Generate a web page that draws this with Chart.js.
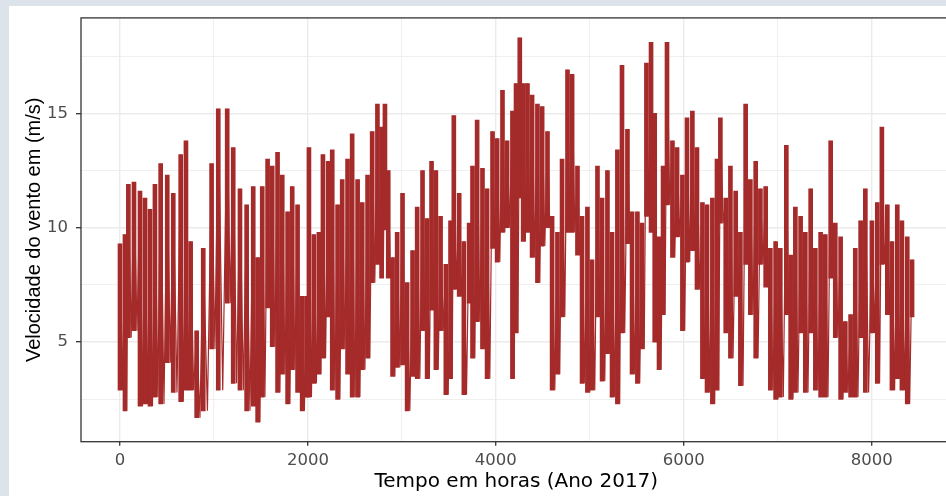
<!DOCTYPE html>
<html><head><meta charset="utf-8">
<script src="https://cdn.jsdelivr.net/npm/chart.js@4.4.1/dist/chart.umd.min.js"></script>
<style>html,body{margin:0;padding:0;overflow:hidden;background:#dce3ea;width:946px;height:496px}
canvas{position:absolute;left:0;top:0}</style></head>
<body><canvas id="c" width="960" height="496"></canvas>
<script>
const hours = [0,53,89,149,213,266,319,372,433,503,567,646,702,752,816,886,975,1046,1141,1205,1277,1348,
1418,1465,1514,1571,1620,1677,1727,1784,1833,1890,1939,1986,2011,2064,2117,2160,2216,2259,2316,2365,2422,2471,2529,2578,2635,2684,2740,
2784,2820,2855,2901,2950,3007,3056,3114,3163,3220,3269,3316,3362,3412,3468,3518,3553,3610,3660,3716,3752,3801,3858,3907,3965,4014,4071,4120,4177,4215,
4255,4291,4337,4386,4443,4493,4550,4599,4656,4705,4763,4812,4869,4918,4975,5024,5082,5131,5188,5237,5294,5343,5401,5450,5507,5556,5603,
5652,5691,5737,5780,5822,5880,5929,5986,6035,6092,6141,6199,6248,6305,6354,6390,6447,6497,6553,6603,6659,6709,6766,6816,6872,6922,6978,7028,7092,
7138,7188,7244,7294,7351,7401,7457,7507,7564,7613,7670,7720,7776,7826,7883,7933,8003,8060,8109,8167,8216,8273,8322,8379,8430];
const speedMax = [9.3,9.7,11.9,12.0,11.6,11.3,10.8,11.9,12.8,12.3,11.5,13.2,13.8,9.4,5.5,9.1,12.8,15.2,15.2,13.5,11.7,11.0,
11.8,8.7,11.8,13.0,12.7,13.3,12.3,10.7,11.8,11.0,7.0,7.0,13.5,9.7,9.8,13.2,12.9,13.4,11.0,12.1,13.0,14.1,12.1,11.1,12.3,14.2,15.4,
14.4,15.4,12.5,8.7,9.8,11.5,7.6,9.0,10.9,12.5,10.4,12.9,12.5,10.5,8.4,10.3,14.9,11.5,9.4,10.2,12.7,14.7,12.6,11.7,14.2,13.9,16.0,13.8,15.1,16.3,
18.3,16.3,16.3,15.8,15.4,15.3,14.2,10.5,9.8,13.0,16.9,16.7,12.7,10.5,10.9,8.6,12.7,11.3,12.5,9.8,13.4,17.1,14.3,10.7,10.7,10.2,17.2,
18.1,15.0,9.6,12.7,18.1,13.8,13.5,12.3,14.8,15.1,13.5,11.1,11.0,11.3,13.0,14.8,11.3,12.7,11.6,9.8,15.4,12.1,12.9,11.7,11.8,9.1,9.4,9.1,13.6,
8.8,10.9,10.5,9.8,11.7,9.1,9.8,9.7,13.8,10.2,9.6,5.9,6.2,9.1,10.3,11.7,10.3,11.1,14.4,11.0,9.4,11.0,10.3,9.6,8.6];
const speedMin = [2.9,2.0,5.2,5.5,2.2,2.3,2.2,2.6,2.3,4.1,2.8,2.4,2.9,2.9,1.7,2.0,4.7,2.9,6.7,3.2,2.9,2.0,
2.2,1.5,2.6,6.5,4.8,2.8,3.6,2.3,3.8,2.8,2.0,2.6,2.6,3.2,3.6,4.3,6.1,2.9,2.5,4.7,3.6,2.6,2.6,3.8,4.3,7.6,8.4,
7.8,9.9,7.8,3.5,3.9,4.0,2.0,3.5,3.4,5.5,3.4,6.4,3.8,5.5,2.7,3.4,7.3,7.0,2.7,6.7,4.3,5.9,4.7,3.4,9.1,8.5,9.8,10.0,3.4,5.4,
11.3,9.4,9.8,8.7,7.6,9.2,10.0,2.9,3.6,6.1,9.8,9.8,8.8,3.2,2.8,2.9,6.1,3.3,4.5,2.6,2.3,5.4,9.3,3.6,3.2,4.7,10.5,
9.8,5.0,3.8,6.2,11.0,8.7,9.6,5.5,8.5,9.0,7.3,3.4,2.8,2.3,2.9,10.2,5.4,4.3,7.0,3.1,8.4,6.2,4.3,8.4,7.4,2.9,2.5,2.6,6.2,
2.5,2.8,5.4,2.8,5.4,2.9,2.6,2.6,7.8,5.2,2.5,2.8,2.6,2.6,5.2,2.8,5.4,3.2,8.4,6.2,2.9,3.4,2.9,2.3,6.1];

const xMajorTicks = [0, 2000, 4000, 6000, 8000];
const xMinorTicks = [1000, 3000, 5000, 7000];
const yMajorTicks = [5, 10, 15];
const yMinorTicks = [2.5, 7.5, 12.5, 17.5];
const xTitle = 'Tempo em horas (Ano 2017)';
const yTitle = 'Velocidade do vento em (m/s)';

// each window's range as a vertical stroke, plus the line swinging max -> min
const ranges = hours.map((h, i) => ({x: h, y: [speedMin[i], speedMax[i]]}));
const zig = [];
for (let i = 0; i < hours.length; i++) {
  const next = i < hours.length - 1 ? hours[i + 1] : hours[i] + 10;
  zig.push({x: hours[i], y: speedMax[i]});
  zig.push({x: (hours[i] + next) / 2, y: speedMin[i]});
}

const bg = {id: 'bg', beforeDraw(c) {
  const g = c.ctx; g.save();
  g.fillStyle = '#dce3ea'; g.fillRect(0, 0, c.width, c.height);
  g.fillStyle = '#ffffff'; g.fillRect(9, 6, c.width, c.height);
  g.restore();
}};
const frame = {id: 'frame', afterDatasetsDraw(c) {
  const a = c.chartArea, g = c.ctx; g.save();
  g.strokeStyle = '#333333'; g.lineWidth = 1.3;
  g.strokeRect(a.left, a.top, a.right - a.left, a.bottom - a.top);
  g.restore();
}};

const brown = '#a52a2a';
const tickFont = {family: 'DejaVu Sans', size: 16.5};
new Chart(document.getElementById('c'), {
  type: 'bar',
  data: {datasets: [
    {type: 'bar', data: ranges, backgroundColor: brown, borderWidth: 0, barThickness: 4, grouped: false},
    {type: 'line', data: zig, borderColor: brown, borderWidth: 1.2, pointRadius: 0, tension: 0,
      borderJoinStyle: 'bevel', fill: false}
  ]},
  options: {
    responsive: false, animation: false, devicePixelRatio: 1,
    layout: {padding: {left: 0, top: 16, right: 8.4, bottom: 0}},
    plugins: {legend: {display: false}, tooltip: {enabled: false}},
    scales: {
      x: {type: 'linear', min: -415, max: 8851, offset: false,
        afterBuildTicks(s) { s.ticks = [...xMajorTicks, ...xMinorTicks].sort((a, b) => a - b).map(v => ({value: v})); },
        afterFit(s) { s.height = 54.3; },
        ticks: {autoSkip: false, maxRotation: 0, padding: 5, color: '#4d4d4d', font: tickFont,
          callback: v => xMajorTicks.includes(v) ? String(v) : ''},
        grid: {offset: false, color: '#ebebeb', lineWidth: c => xMajorTicks.includes(c.tick && c.tick.value) ? 1.4 : 0.8,
          tickColor: c => xMajorTicks.includes(c.tick && c.tick.value) ? '#333333' : 'rgba(0,0,0,0)',
          tickLength: 4, tickWidth: 1.3},
        border: {display: false},
        title: {display: true, text: xTitle, color: '#000', font: {family: 'DejaVu Sans', size: 20}, padding: {top: 0, bottom: 2}}
      },
      y: {type: 'linear', min: 0.65, max: 19.17,
        afterBuildTicks(s) { s.ticks = [...yMajorTicks, ...yMinorTicks].sort((a, b) => a - b).map(v => ({value: v})); },
        afterFit(s) { s.width = 81; },
        ticks: {padding: 8, color: '#4d4d4d', font: tickFont,
          callback: v => yMajorTicks.includes(v) ? String(v) : ''},
        grid: {color: '#ebebeb', lineWidth: c => yMajorTicks.includes(c.tick && c.tick.value) ? 1.4 : 0.8,
          tickColor: c => yMajorTicks.includes(c.tick && c.tick.value) ? '#333333' : 'rgba(0,0,0,0)',
          tickLength: 5, tickWidth: 1.3},
        border: {display: false},
        title: {display: true, text: yTitle, color: '#000', font: {family: 'Liberation Sans', size: 20}, padding: {top: 22, bottom: 0}}
      }
    }
  },
  plugins: [bg, frame]
});
</script>
</body></html>
